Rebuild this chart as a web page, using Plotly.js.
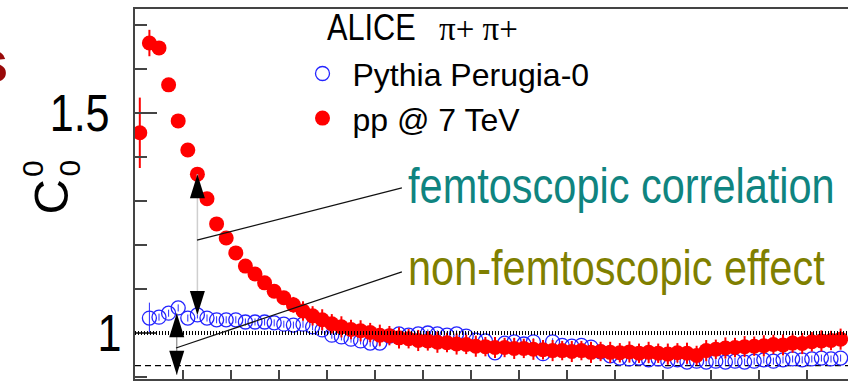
<!DOCTYPE html>
<html>
<head>
<meta charset="utf-8">
<script src="https://cdn.plot.ly/plotly-3.0.1.min.js"></script>
<style>
  html, body { margin: 0; padding: 0; background: #ffffff; }
  #chart { width: 848px; height: 381px; }
</style>
</head>
<body>
<div id="chart"></div>
<script>
// Pair relative momentum bins (GeV/c) for the measured pi+ pi+ correlation
const qData = [
  0.005, 0.015, 0.025, 0.035, 0.045, 0.055, 0.065, 0.075, 0.085, 0.095,
  0.105, 0.115, 0.125, 0.135, 0.145, 0.155, 0.165, 0.175, 0.185, 0.195,
  0.205, 0.215, 0.225, 0.235, 0.245, 0.255, 0.265, 0.275, 0.285, 0.295,
  0.305, 0.315, 0.325, 0.335, 0.345, 0.355, 0.365, 0.375, 0.385, 0.395,
  0.405, 0.415, 0.425, 0.435, 0.445, 0.455, 0.465, 0.475, 0.485, 0.495,
  0.505, 0.515, 0.525, 0.535, 0.545, 0.555, 0.565, 0.575, 0.585, 0.595,
  0.605, 0.615, 0.625, 0.635, 0.645, 0.655, 0.665, 0.675, 0.685, 0.695,
  0.705, 0.715, 0.725, 0.735
];
// C00 for pp @ 7 TeV
const c00Data = [
  1.455, 1.659, 1.648, 1.564, 1.482, 1.416, 1.361, 1.305, 1.248, 1.216,
  1.182, 1.152, 1.134, 1.114, 1.095, 1.080, 1.064, 1.050, 1.039, 1.030,
  1.021, 1.014, 1.008, 1.005, 1.001, 0.995, 0.994, 0.989, 0.987, 0.983,
  0.982, 0.979, 0.978, 0.975, 0.974, 0.970, 0.969, 0.967, 0.967, 0.965,
  0.965, 0.963, 0.962, 0.960, 0.960, 0.958, 0.960, 0.956, 0.958, 0.956,
  0.955, 0.957, 0.954, 0.956, 0.954, 0.952, 0.955, 0.954, 0.949, 0.960,
  0.963, 0.966, 0.967, 0.969, 0.970, 0.971, 0.974, 0.973, 0.977, 0.976,
  0.980, 0.982, 0.983, 0.986
];
const c00DataErr = [
  0.080, 0.030, 0.015, 0.015, 0.015, 0.015, 0.015, 0.015, 0.015, 0.015,
  0.015, 0.015, 0.015, 0.015, 0.015, 0.015, 0.018, 0.022, 0.022, 0.024,
  0.022, 0.024, 0.022, 0.024, 0.022, 0.024, 0.022, 0.024, 0.022, 0.024,
  0.022, 0.024, 0.022, 0.024, 0.022, 0.024, 0.022, 0.024, 0.022, 0.024,
  0.022, 0.024, 0.022, 0.024, 0.022, 0.024, 0.022, 0.024, 0.022, 0.024,
  0.022, 0.024, 0.022, 0.024, 0.022, 0.024, 0.022, 0.024, 0.022, 0.024,
  0.022, 0.024, 0.022, 0.024, 0.022, 0.024, 0.022, 0.024, 0.022, 0.024,
  0.022, 0.024, 0.022, 0.024
];

// Pythia Perugia-0 simulation
const qPythia = [
  0.015, 0.025, 0.035, 0.045, 0.055, 0.065, 0.075, 0.085, 0.095,
  0.105, 0.115, 0.125, 0.135, 0.145, 0.155, 0.165, 0.175, 0.185, 0.195,
  0.205, 0.215, 0.225, 0.235, 0.245, 0.255, 0.265, 0.275, 0.285, 0.295,
  0.305, 0.315, 0.325, 0.335, 0.345, 0.355, 0.365, 0.375, 0.385, 0.395,
  0.405, 0.415, 0.425, 0.435, 0.445, 0.455, 0.465, 0.475, 0.485, 0.495,
  0.505, 0.515, 0.525, 0.535, 0.545, 0.555, 0.565, 0.575, 0.585, 0.595,
  0.605, 0.615, 0.625, 0.635, 0.645, 0.655, 0.665, 0.675, 0.685, 0.695,
  0.705, 0.715, 0.725, 0.735
];
const c00Pythia = [
  1.034, 1.036, 1.045, 1.057, 1.034, 1.041, 1.034, 1.030, 1.030,
  1.030, 1.025, 1.025, 1.025, 1.023, 1.020, 1.018, 1.020, 1.014, 1.007,
  0.995, 0.991, 0.986, 0.982, 0.977, 0.977, 0.993, 0.998, 0.995, 0.998,
  1.000, 0.998, 0.995, 0.998, 0.993, 0.984, 0.982, 0.955, 0.977, 0.980,
  0.975, 0.980, 0.953, 0.980, 0.972, 0.970, 0.972, 0.968, 0.957, 0.948,
  0.943, 0.941, 0.943, 0.939, 0.941, 0.936, 0.939, 0.934, 0.936, 0.934,
  0.936, 0.934, 0.936, 0.934, 0.936, 0.939, 0.936, 0.939, 0.941, 0.939,
  0.941, 0.943, 0.941, 0.943
];
const c00PythiaErr = [
  0.035, 0.008, 0.008, 0.008, 0.008, 0.008, 0.008, 0.008, 0.008,
  0.008, 0.008, 0.008, 0.008, 0.008, 0.008, 0.008, 0.008, 0.008, 0.008,
  0.008, 0.008, 0.008, 0.008, 0.008, 0.008, 0.008, 0.008, 0.008, 0.008,
  0.008, 0.008, 0.008, 0.008, 0.008, 0.008, 0.008, 0.008, 0.008, 0.008,
  0.008, 0.008, 0.008, 0.008, 0.008, 0.008, 0.008, 0.008, 0.008, 0.008,
  0.008, 0.008, 0.008, 0.008, 0.008, 0.008, 0.008, 0.008, 0.008, 0.008,
  0.008, 0.008, 0.008, 0.008, 0.008, 0.008, 0.008, 0.008, 0.008, 0.008,
  0.008, 0.008, 0.008, 0.008
];

// Axis labels and reference levels
const yTickVals = [1, 1.5];
const yTickText = ['1', '1.5\u00a0'];
const unityLevel = 1;
const baselineLevel = 0.926;
const seriesNames = ['Pythia Perugia-0', 'pp @ 7 TeV'];
const headerText = 'ALICE';
const headerPions = 'π+ π+';
const labelFemto = 'femtoscopic correlation';
const labelNonFemto = 'non-femtoscopic effect';

// Double arrows: femtoscopic part spans Pythia -> data in one bin
const femtoBin = 6;              // index in qData
const femtoPythiaBin = 5;        // same q in qPythia
const nonFemtoArrow = { q: 0.0435, top: 1.045, bottom: 0.905 };
// Leader lines from the arrows to their labels (q, C00)
const femtoLeader = { from: [0.0646, 1.211], to: [0.278, 1.330] };
const nonFemtoLeader = { from: [0.0427, 0.966], to: [0.278, 1.139] };

const SANS = "'Liberation Sans', Arial, sans-serif";
const SERIF = "'Liberation Serif', 'Times New Roman', serif";
const AXIS_COL = '#444444';
const NARROW_SCALE = 0.83;   // horizontal squeeze giving a narrow sans face

const traces = [
  {
    type: 'scatter', mode: 'markers', name: seriesNames[0],
    x: qPythia, y: c00Pythia,
    error_y: { type: 'data', array: c00PythiaErr, visible: true, color: '#2b2bff', thickness: 1, width: 0 },
    marker: { symbol: 'circle-open', size: 14, color: '#2424ff', line: { width: 1.3, color: '#2424ff' } }
  },
  {
    type: 'scatter', mode: 'markers', name: seriesNames[1],
    x: qData, y: c00Data,
    error_y: { type: 'data', array: c00DataErr, visible: true, color: '#ff0000', thickness: 2, width: 0 },
    marker: { symbol: 'circle', size: 15, color: '#ff0000' }
  }
];

const fq = qData[femtoBin];
const fTop = c00Data[femtoBin];
const fBottom = c00Pythia[femtoPythiaBin];

function head(q, c, dir) {
  // filled arrowhead with its tip at (q, c); dir = +1 points up, -1 points down
  const b = -24 * dir;
  return {
    type: 'path', xref: 'x', yref: 'y', xsizemode: 'pixel', ysizemode: 'pixel',
    xanchor: q, yanchor: c,
    path: 'M0,0 L-7.5,' + b + ' L7.5,' + b + ' Z',
    fillcolor: '#000000', line: { width: 0 }, layer: 'above'
  };
}

const shapes = [
  { type: 'line', xref: 'paper', x0: 0, x1: 1, yref: 'y', y0: unityLevel, y1: unityLevel,
    line: { color: '#000000', width: 4, dash: '1px,2px' }, layer: 'above' },
  { type: 'line', xref: 'paper', x0: 0, x1: 1, yref: 'y', y0: baselineLevel, y1: baselineLevel,
    line: { color: '#000000', width: 1.3, dash: '6px,4px' }, layer: 'below' },
  { type: 'line', xref: 'x', yref: 'y', x0: fq, x1: fq, y0: fBottom, y1: fTop,
    line: { color: '#cfcfcf', width: 1.5 }, layer: 'above' },
  { type: 'line', xref: 'x', yref: 'y', x0: nonFemtoArrow.q, x1: nonFemtoArrow.q,
    y0: nonFemtoArrow.bottom, y1: nonFemtoArrow.top,
    line: { color: '#8a8a8a', width: 1.2 }, layer: 'above' },
  head(fq, fTop, 1), head(fq, fBottom, -1),
  head(nonFemtoArrow.q, nonFemtoArrow.top, 1), head(nonFemtoArrow.q, nonFemtoArrow.bottom, -1),
  { type: 'line', xref: 'x', yref: 'y',
    x0: femtoLeader.from[0], y0: femtoLeader.from[1], x1: femtoLeader.to[0], y1: femtoLeader.to[1],
    line: { color: '#111111', width: 1.2 }, layer: 'above' },
  { type: 'line', xref: 'x', yref: 'y',
    x0: nonFemtoLeader.from[0], y0: nonFemtoLeader.from[1], x1: nonFemtoLeader.to[0], y1: nonFemtoLeader.to[1],
    line: { color: '#111111', width: 1.2 }, layer: 'above' }
];

const annotations = [
  // y-axis title C^0_0 built from a large C and stacked indices
  { text: 'C', xref: 'paper', yref: 'paper', x: -0.1178, y: 0.4905, xanchor: 'center', yanchor: 'middle',
    textangle: -90, showarrow: false, font: { family: SANS, size: 49, color: '#000000' } },
  { text: '0', xref: 'paper', yref: 'paper', x: -0.1438, y: 0.5689, xanchor: 'center', yanchor: 'middle',
    textangle: -90, showarrow: false, font: { family: SANS, size: 30, color: '#000000' } },
  { text: '0', xref: 'paper', yref: 'paper', x: -0.0925, y: 0.5689, xanchor: 'center', yanchor: 'middle',
    textangle: -90, showarrow: false, font: { family: SANS, size: 30, color: '#000000' } },
  // tail of a heading running off the left edge
  { text: '<b>s</b>', xref: 'paper', yref: 'paper', x: -0.1753, y: 0.859, xanchor: 'right', yanchor: 'middle',
    showarrow: false, font: { family: SANS, size: 60, color: '#990a0a' } },
  // legend header
  { text: headerText, xref: 'paper', yref: 'paper', x: 0.2665, y: 0.9500, xanchor: 'left', yanchor: 'middle',
    showarrow: false, font: { family: SANS, size: 37, color: '#000000' } },
  { text: headerPions, xref: 'paper', yref: 'paper', x: 0.4240, y: 0.9460, xanchor: 'left', yanchor: 'middle',
    showarrow: false, font: { family: SERIF, size: 33, color: '#000000' } },
  // effect labels
  { text: labelFemto, xref: 'x', yref: 'y', x: 0.2823, y: 1.334, xanchor: 'left', yanchor: 'middle',
    showarrow: false, font: { family: SANS, size: 50, color: '#0f8480' } },
  { text: labelNonFemto, xref: 'x', yref: 'y', x: 0.2823, y: 1.148, xanchor: 'left', yanchor: 'middle',
    showarrow: false, font: { family: SANS, size: 50, color: '#7f7f00' } }
];

const layout = {
  width: 848, height: 381,
  margin: { l: 135, r: 0, t: 9, b: 2, pad: 0 },
  paper_bgcolor: '#ffffff', plot_bgcolor: '#ffffff',
  showlegend: true,
  legend: {
    x: 0.2209, xanchor: 'left', y: 0.8995, yanchor: 'top',
    bgcolor: 'rgba(0,0,0,0)', borderwidth: 0, itemwidth: 50,
    font: { family: SANS, size: 32, color: '#000000' }
  },
  xaxis: {
    range: [0, 0.7427], showgrid: false, zeroline: false,
    showline: true, linecolor: AXIS_COL, linewidth: 2, mirror: true,
    ticks: 'inside', tick0: 0, dtick: 0.05, ticklen: 9, tickwidth: 1.5, tickcolor: AXIS_COL,
    showticklabels: false
  },
  yaxis: {
    range: [0.89545, 1.73636], showgrid: false, zeroline: false,
    showline: true, linecolor: AXIS_COL, linewidth: 2,
    ticks: 'inside', tickmode: 'array', tickvals: yTickVals, ticktext: yTickText,
    ticklen: 22, tickwidth: 2, tickcolor: AXIS_COL, ticklabelstandoff: 1,
    tickfont: { family: SANS, size: 52, color: '#000000' },
    minor: { ticks: 'inside', dtick: 0.1, tick0: 0, ticklen: 12, tickwidth: 2, tickcolor: AXIS_COL, showgrid: false }
  },
  shapes: shapes,
  annotations: annotations
};

// Squeeze a text element horizontally about its left or right edge
function condense(el, sx, side) {
  const bb = el.getBBox();
  const ax = side === 'right' ? bb.x + bb.width : bb.x;
  const prev = el.getAttribute('transform') || '';
  el.setAttribute('transform', (prev + ' translate(' + (ax * (1 - sx)) + ',0) scale(' + sx + ',1)').trim());
}

Plotly.newPlot('chart', traces, layout, { staticPlot: true, displayModeBar: false }).then(function (gd) {
  const narrowLabels = [headerText, labelFemto, labelNonFemto];
  gd.querySelectorAll('text.annotation-text').forEach(function (el) {
    if (narrowLabels.indexOf(el.textContent) >= 0) condense(el, NARROW_SCALE, 'left');
  });
  gd.querySelectorAll('.ytick text').forEach(function (el) {
    condense(el, NARROW_SCALE, 'right');
  });
});
</script>
</body>
</html>
